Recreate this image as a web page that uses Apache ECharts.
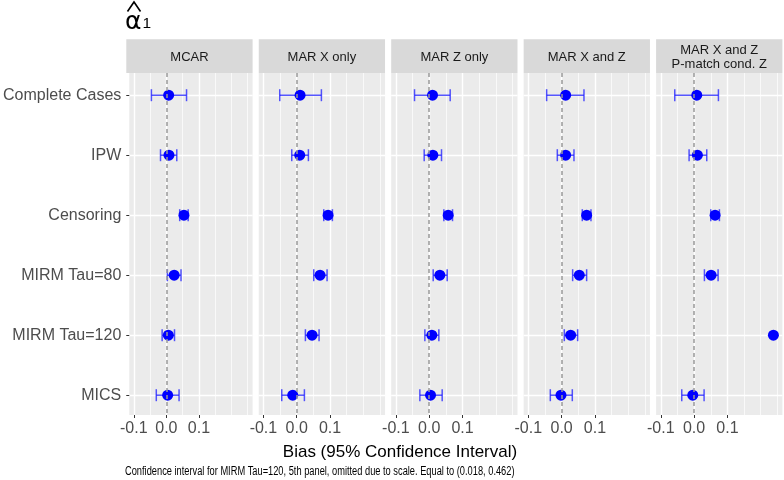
<!DOCTYPE html>
<html>
<head>
<meta charset="utf-8">
<script src="https://cdn.jsdelivr.net/npm/echarts@6/dist/echarts.min.js"></script>
<style>
  html, body { margin: 0; padding: 0; background: #fff; }
  #main { width: 784px; height: 480px; }
</style>
</head>
<body>
<div id="main"></div>
<script>
// rows (top to bottom) and facet strips
const methods = ['Complete Cases', 'IPW', 'Censoring', 'MIRM Tau=80', 'MIRM Tau=120', 'MICS'];
const panels = ['MCAR', 'MAR X only', 'MAR Z only', 'MAR X and Z', 'MAR X and Z\nP-match cond. Z'];

// bias estimate per panel, one value per method
const estMCAR   = [0.007, 0.008, 0.054, 0.024, 0.006, 0.004];
const estMARX   = [0.010, 0.009, 0.094, 0.070, 0.046, -0.012];
const estMARZ   = [0.010, 0.011, 0.057, 0.032, 0.008, 0.004];
const estMARXZ  = [0.012, 0.012, 0.075, 0.053, 0.027, -0.002];
const estPmatch = [0.008, 0.010, 0.063, 0.051, 0.238, -0.004];

// 95% CI bounds (null = omitted)
const loMCAR   = [-0.046, -0.018, 0.041, 0.003, -0.013, -0.031];
const hiMCAR   = [0.062, 0.032, 0.067, 0.045, 0.025, 0.039];
const loMARX   = [-0.051, -0.015, 0.081, 0.051, 0.026, -0.045];
const hiMARX   = [0.074, 0.035, 0.107, 0.091, 0.067, 0.023];
const loMARZ   = [-0.044, -0.015, 0.044, 0.012, -0.013, -0.028];
const hiMARZ   = [0.063, 0.037, 0.070, 0.054, 0.029, 0.039];
const loMARXZ  = [-0.045, -0.013, 0.062, 0.033, 0.008, -0.034];
const hiMARXZ  = [0.067, 0.037, 0.088, 0.075, 0.048, 0.032];
const loPmatch = [-0.058, -0.015, 0.050, 0.031, null, -0.037];
const hiPmatch = [0.073, 0.038, 0.076, 0.072, null, 0.030];

const xMajor = [-0.1, 0.0, 0.1];
const xMinor = [-0.05, 0.05, 0.15, 0.2, 0.25];
const rowIdx = [0, 1, 2, 3, 4, 5];

const estAll = [estMCAR, estMARX, estMARZ, estMARXZ, estPmatch];
const loAll = [loMCAR, loMARX, loMARZ, loMARXZ, loPmatch];
const hiAll = [hiMCAR, hiMARX, hiMARZ, hiMARXZ, hiPmatch];

// layout
const P_LEFT = 126.3, P_W = 126.3, P_PITCH = 132.45;
const P_TOP = 73, P_H = 342, STRIP_TOP = 39.3;
const BAR_COLOR = 'rgba(30,30,255,0.75)';

function renderErrorBar(params, api) {
  const a = api.coord([api.value(0), api.value(2)]);
  const b = api.coord([api.value(1), api.value(2)]);
  const h = 6;
  const st = { stroke: BAR_COLOR, lineWidth: 1.5, fill: null };
  return {
    type: 'group',
    children: [
      { type: 'line', shape: { x1: a[0], y1: a[1], x2: b[0], y2: b[1] }, style: st },
      { type: 'line', shape: { x1: a[0], y1: a[1] - h, x2: a[0], y2: a[1] + h }, style: st },
      { type: 'line', shape: { x1: b[0], y1: b[1] - h, x2: b[0], y2: b[1] + h }, style: st }
    ]
  };
}

var grid = [], xAxis = [], yAxis = [], series = [], graphic = [];
panels.forEach((name, i) => {
  var left = P_LEFT + i * P_PITCH;
  grid.push({ left: left, width: P_W, top: P_TOP, height: P_H, show: true, backgroundColor: '#ebebeb', borderWidth: 0 });
  // major x axis
  xAxis.push({
    type: 'value', gridIndex: i, min: -0.114, max: 0.265, position: 'bottom',
    axisLine: { show: false, onZero: false },
    axisTick: { show: true, customValues: xMajor, length: 3, lineStyle: { color: '#333', width: 1 } },
    axisLabel: { customValues: xMajor, formatter: (v) => v.toFixed(1), fontSize: 16, color: '#4d4d4d', margin: 6 },
    splitLine: { show: true, lineStyle: { color: '#fff', width: 1.4 } }
  });
  // minor grid lines
  xAxis.push({
    type: 'value', gridIndex: i, min: -0.114, max: 0.265, position: 'top',
    axisLine: { show: false, onZero: false },
    axisTick: { show: false, customValues: xMinor },
    axisLabel: { show: false },
    splitLine: { show: true, lineStyle: { color: '#fff', width: 0.7 } }
  });
  yAxis.push({
    type: 'value', gridIndex: i, inverse: true, min: -0.37, max: 5.33,
    axisLine: { show: false, onZero: false },
    axisTick: { show: i === 0, customValues: rowIdx, length: 3, lineStyle: { color: '#333', width: 1 } },
    axisLabel: { show: i === 0, customValues: rowIdx, formatter: (v) => methods[v] || '', fontSize: 16, color: '#4d4d4d', margin: 8 },
    splitLine: { show: true, lineStyle: { color: '#fff', width: 1.4 } }
  });
  var bars = [];
  rowIdx.forEach((r) => {
    if (loAll[i][r] != null) bars.push([loAll[i][r], hiAll[i][r], r]);
  });
  series.push({
    type: 'custom', xAxisIndex: 2 * i, yAxisIndex: i,
    renderItem: renderErrorBar,
    encode: { x: [0, 1], y: 2 },
    data: bars, z: 3, silent: true,
    markLine: {
      silent: true, symbol: 'none', animation: false,
      label: { show: false },
      lineStyle: { color: '#999', type: [4, 3], width: 1.5 },
      data: [{ xAxis: 0 }]
    }
  });
  series.push({
    type: 'scatter', xAxisIndex: 2 * i, yAxisIndex: i,
    data: rowIdx.map((r) => [estAll[i][r], r]),
    symbolSize: 11, itemStyle: { color: '#0000ff', opacity: 1 }, z: 4
  });
  // facet strip
  graphic.push({
    type: 'rect', left: left, top: STRIP_TOP, silent: true,
    shape: { width: P_W, height: P_TOP - STRIP_TOP },
    style: { fill: '#d9d9d9' }
  });
  graphic.push({
    type: 'text', x: left + P_W / 2, y: (STRIP_TOP + P_TOP) / 2 + 1, silent: true,
    style: { text: name, fontSize: 13, fill: '#1a1a1a', align: 'center', verticalAlign: 'middle', lineHeight: 14, fontFamily: 'Liberation Sans' }
  });
});

// title: alpha with hat, subscript 1
graphic.push({ type: 'text', x: 125, y: 10, style: { text: 'α', fontSize: 25, fill: '#000', fontFamily: 'DejaVu Sans' } });
graphic.push({ type: 'polyline', shape: { points: [[127.5, 11.5], [134, 2], [140.5, 11.5]] }, style: { stroke: '#000', lineWidth: 1.6, fill: null } });
graphic.push({ type: 'text', x: 142.5, y: 16, style: { text: '1', fontSize: 15.5, fill: '#000', fontFamily: 'Liberation Sans' } });
// axis title and caption
graphic.push({ type: 'text', x: 400, y: 452, style: { text: 'Bias (95% Confidence Interval)', fontSize: 17, fill: '#000', align: 'center', verticalAlign: 'middle', fontFamily: 'Liberation Sans' } });
graphic.push({ type: 'text', x: 125, y: 472, scaleX: 0.742, style: { text: 'Confidence interval for MIRM Tau=120, 5th panel, omitted due to scale. Equal to (0.018, 0.462)', fontSize: 12.5, fill: '#000', align: 'left', verticalAlign: 'middle', fontFamily: 'Liberation Sans' } });

var chart = echarts.init(document.getElementById('main'), null, { renderer: 'canvas' });
chart.setOption({
  animation: false,
  textStyle: { fontFamily: 'Liberation Sans' },
  grid: grid, xAxis: xAxis, yAxis: yAxis, series: series, graphic: graphic
});
</script>
</body>
</html>
